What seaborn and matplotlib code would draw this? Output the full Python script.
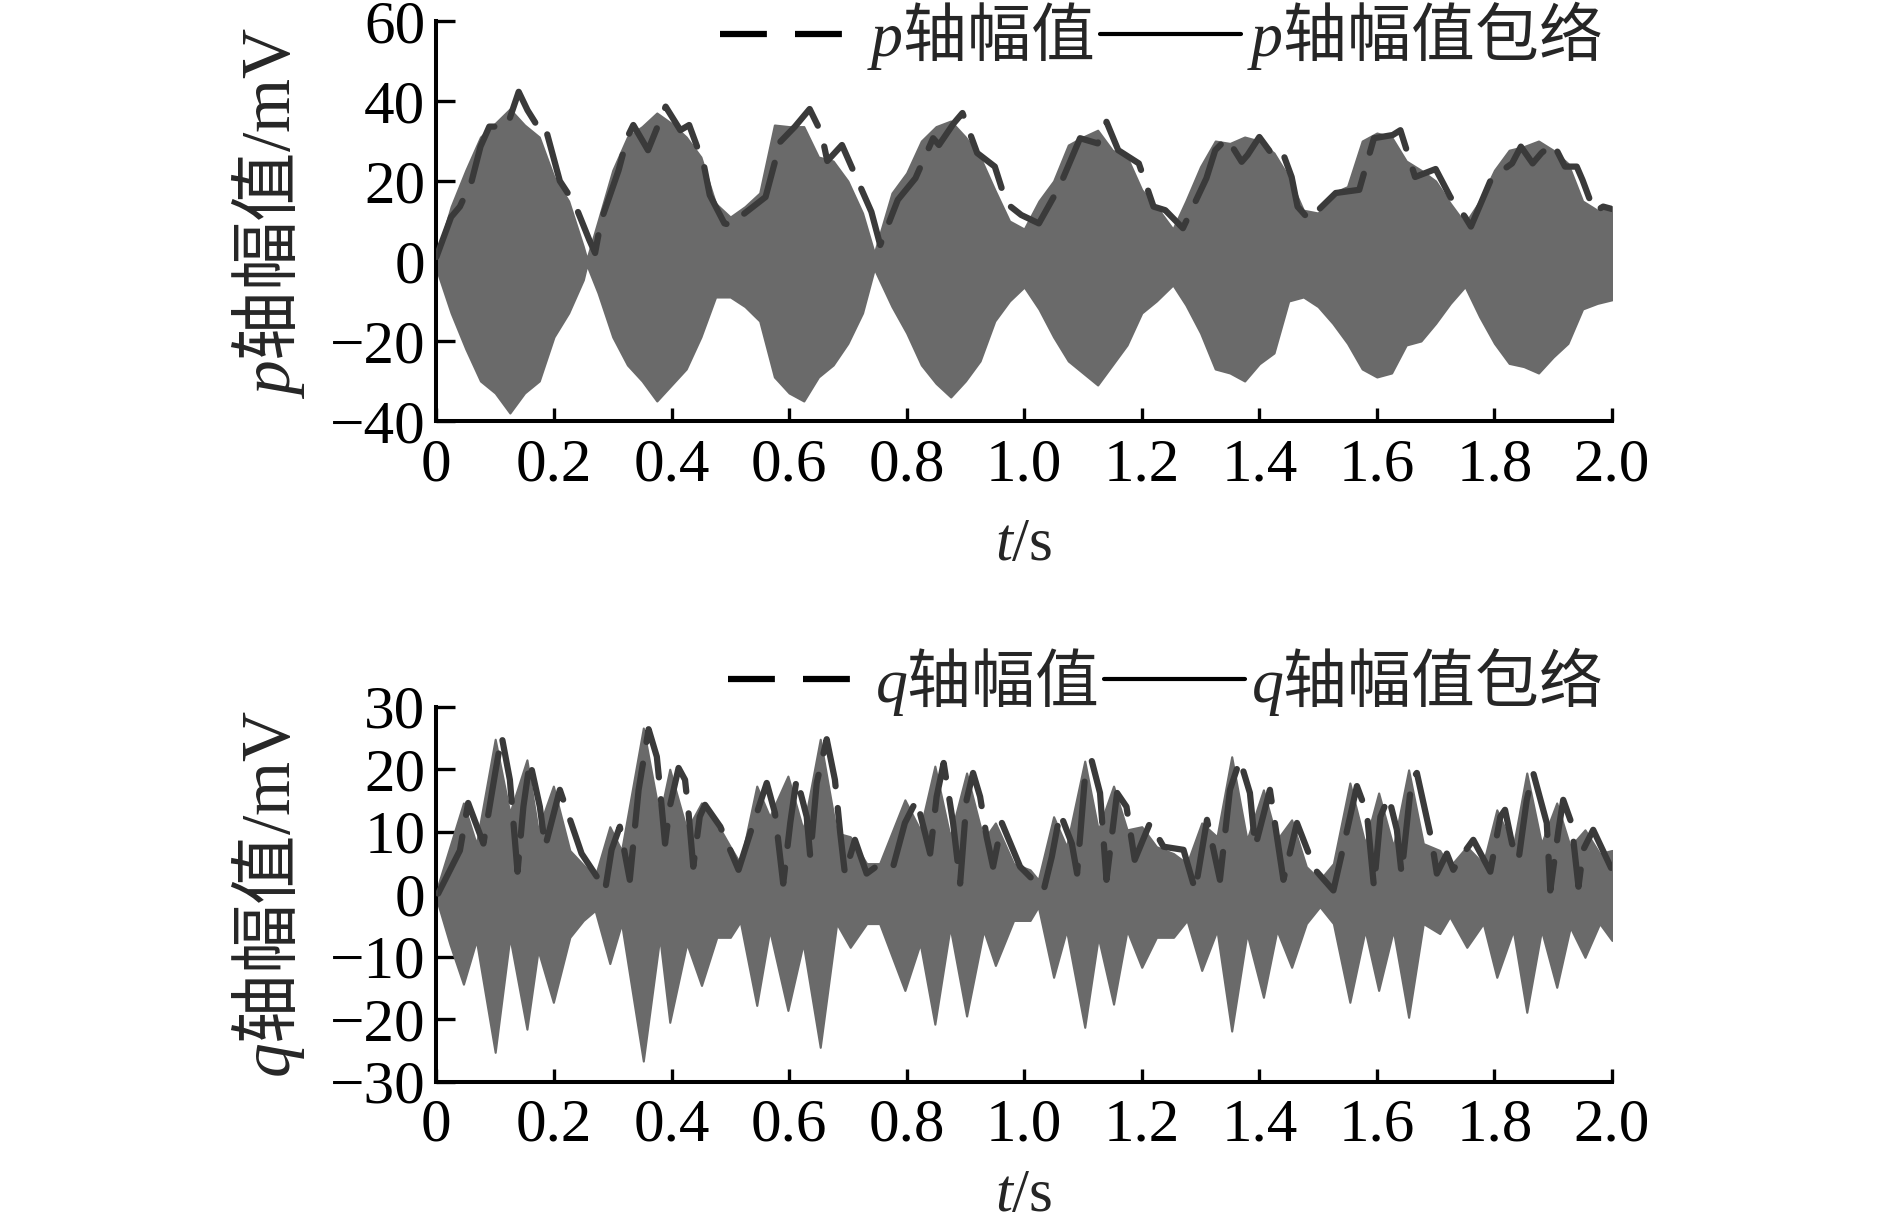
import numpy as np
import matplotlib
matplotlib.use("Agg")
import matplotlib.pyplot as plt
from matplotlib.lines import Line2D
from matplotlib.font_manager import FontProperties
import seaborn as sns

# ================================
# style
# ================================
sns.set_theme(style="ticks")
plt.rcParams['font.family'] = ['Liberation Serif', 'Noto Sans CJK SC']
plt.rcParams['mathtext.fontset'] = 'custom'
plt.rcParams['mathtext.it'] = 'Liberation Serif:italic'
plt.rcParams['mathtext.rm'] = 'Liberation Serif'
plt.rcParams['axes.unicode_minus'] = True

FS = 44
FS_LEG = 46
FS_YLAB = 50
CJK = 'Noto Sans CJK SC'
FILL_COLOR = '#6a6a6a'
ENV_COLOR = '#3a3a3a'

# ================================
# data
# ================================
# p axis: outline of the dense signal (upper / lower edge)
p_sig_t = [0.000, 0.025, 0.050, 0.075, 0.100, 0.125, 0.150, 0.175, 0.200, 0.225,
           0.250, 0.256, 0.275, 0.300, 0.325, 0.350, 0.375, 0.400, 0.425, 0.450,
           0.475, 0.500, 0.525, 0.550, 0.575, 0.600, 0.625, 0.650, 0.675, 0.700,
           0.725, 0.745, 0.775, 0.800, 0.825, 0.850, 0.875, 0.900, 0.925, 0.950,
           0.975, 1.000, 1.025, 1.050, 1.075, 1.100, 1.125, 1.150, 1.175, 1.200,
           1.225, 1.253, 1.275, 1.300, 1.325, 1.350, 1.375, 1.400, 1.425, 1.450,
           1.475, 1.500, 1.525, 1.550, 1.575, 1.600, 1.625, 1.650, 1.675, 1.700,
           1.725, 1.750, 1.775, 1.800, 1.825, 1.850, 1.875, 1.900, 1.925, 1.950,
           1.975, 2.000]
p_sig_hi = [1, 13.6, 22.7, 31, 34.4, 38, 34, 31, 21, 15,
            3.6, 0.5, 10, 22.7, 31, 33.6, 37, 34.4, 31, 26,
            14.4, 11, 13.6, 17, 34, 33.6, 33.6, 26, 25, 20,
            12, 2, 17, 22, 30, 33.6, 35, 31, 26, 17.8,
            10, 8, 15, 20, 29, 31, 32.7, 27.7, 26, 17.8,
            13.6, 8, 15, 23.6, 30, 29.4, 31, 30, 27, 21,
            12.7, 12, 17, 18.6, 30, 32, 31, 25, 22.7, 20,
            14.4, 9.4, 15, 22.7, 27.7, 28.6, 30, 27.7, 24.4, 15,
            12.7, 13.6]
p_sig_lo = [-2, -13, -22, -30, -33, -38, -33, -30, -19, -13,
            -4.7, -1, -8, -19, -26, -30, -35, -31, -27, -19,
            -9, -9, -11.4, -15, -29, -33, -35, -29, -26, -20.6,
            -13, -2, -11.4, -18, -26, -30.6, -34, -30, -25, -15,
            -10, -6.5, -12, -19, -25, -28, -31, -26, -21, -13,
            -10, -6, -11, -18, -27, -28, -30, -25.7, -23, -10,
            -9, -11.4, -15.6, -20.6, -27, -29, -28, -21, -20, -15.6,
            -10.6, -6.4, -14, -20.6, -25.6, -26.4, -28, -24, -20.6, -12,
            -10.6, -9.7]

# p axis: dashed envelope
p_env_t = [0.000, 0.025, 0.040, 0.060, 0.075, 0.090, 0.120, 0.140, 0.155, 0.175,
           0.185, 0.210, 0.235, 0.260, 0.270, 0.280, 0.310, 0.325, 0.335, 0.360,
           0.390, 0.415, 0.430, 0.455, 0.465, 0.490, 0.500, 0.525, 0.560, 0.585,
           0.610, 0.635, 0.655, 0.665, 0.690, 0.740, 0.755, 0.785, 0.815, 0.845,
           0.855, 0.880, 0.895, 0.920, 0.950, 0.970, 0.995, 1.025, 1.060, 1.095,
           1.125, 1.140, 1.160, 1.195, 1.220, 1.240, 1.270, 1.310, 1.325, 1.345,
           1.370, 1.380, 1.400, 1.425, 1.440, 1.455, 1.465, 1.485, 1.500, 1.530,
           1.570, 1.595, 1.627, 1.640, 1.665, 1.700, 1.725, 1.750, 1.760, 1.795,
           1.830, 1.845, 1.865, 1.880, 1.900, 1.920, 1.940, 1.950, 1.970, 1.985,
           2.000]
p_env_v = [1, 11, 13.6, 20, 28.6, 33.6, 33.6, 42.3, 37.7, 33,
           33.6, 20, 14.4, 5.3, 2, 10, 22.7, 31, 34, 27.7,
           38.6, 32.7, 34, 24, 16.5, 9.4, 9, 12, 16, 29.8,
           33.6, 38, 32, 25, 29, 12.3, 4, 15.3, 20.7, 30.7,
           29, 34.4, 37, 27, 23.6, 14.4, 11.5, 9.4, 18.6, 30.7,
           29.4, 34.8, 27.7, 24.4, 13.6, 12.7, 8.2, 20.7, 27.7, 30.7,
           24.8, 26.5, 31, 26, 27, 21, 13.6, 10.3, 12.7, 17,
           17.8, 30.7, 31.5, 32.7, 21, 23, 16, 11, 8.6, 20.7,
           24.4, 28.6, 24.4, 27, 29.4, 23.6, 23.6, 20.2, 12.3, 13.6,
           13]

# q axis: outline of the dense signal
q_sig_t = [0.000, 0.023, 0.046, 0.068, 0.100, 0.125, 0.154, 0.173, 0.199, 0.227,
           0.250, 0.270, 0.295, 0.315, 0.352, 0.380, 0.397, 0.426, 0.451, 0.477,
           0.500, 0.517, 0.545, 0.567, 0.598, 0.624, 0.653, 0.681, 0.704, 0.732,
           0.754, 0.797, 0.823, 0.848, 0.874, 0.902, 0.931, 0.951, 0.982, 1.010,
           1.024, 1.050, 1.072, 1.103, 1.126, 1.152, 1.175, 1.200, 1.225, 1.254,
           1.277, 1.302, 1.328, 1.353, 1.379, 1.407, 1.430, 1.455, 1.480, 1.503,
           1.526, 1.554, 1.580, 1.603, 1.628, 1.654, 1.679, 1.707, 1.724, 1.753,
           1.781, 1.804, 1.832, 1.855, 1.880, 1.906, 1.929, 1.954, 1.979, 2.000]
q_sig_hi = [0.6, 7.6, 14.6, 8, 24.8, 13, 21.5, 10.3, 17.3, 7,
            4.7, 2.8, 10.8, 7, 26.6, 12.4, 20, 10.3, 14.6, 11.4,
            7.6, 4.9, 17.3, 12.4, 18.9, 10.3, 24.8, 9.8, 9.2, 4.9,
            4.9, 15.1, 10.3, 20.5, 9.2, 19.4, 8.7, 11.4, 4.9, 3.9,
            2.3, 12.4, 7.6, 21.3, 10.3, 17.3, 10.3, 10.8, 7.6, 6.5,
            4.9, 11.4, 9.2, 22, 8.7, 16.7, 8.7, 11.9, 4.4, 2.3,
            4.9, 17.8, 8.1, 16.2, 7.6, 19.9, 8.1, 7, 4.4, 7.6,
            4.9, 13.5, 7.6, 19.4, 8.1, 14.6, 7.6, 10.3, 6.5, 7]
q_sig_lo = [-0.7, -8, -14.4, -7.4, -25.3, -6.9, -21.6, -9, -17.3, -6.9,
            -4.2, -2.6, -11.1, -4.7, -26.7, -6.9, -20.5, -7.9, -14.6, -6.9,
            -6.9, -4.4, -17.8, -5.8, -18.6, -7.9, -24.5, -4.7, -8.5, -4.7,
            -4.7, -15.4, -7.9, -20.8, -5.3, -19.5, -5.8, -11.4, -4.2, -4.2,
            -2, -13.3, -5.8, -21.3, -6.9, -17.6, -5.8, -11.7, -6.9, -6.9,
            -4.2, -12.2, -5.8, -21.9, -6.3, -16.5, -5.8, -11.7, -4.7, -2,
            -4.7, -17.3, -5.8, -15.4, -5.8, -19.7, -4.7, -6.3, -3.6, -8.5,
            -4.7, -13.3, -5.8, -18.9, -5.8, -14.9, -5.3, -10.1, -4.7, -7.4]

# q axis: dashed envelope
q_env_t = [0.003, 0.040, 0.054, 0.080, 0.100, 0.111, 0.125, 0.138, 0.148, 0.159,
           0.176, 0.185, 0.210, 0.247, 0.273, 0.287, 0.298, 0.312, 0.329, 0.344,
           0.361, 0.375, 0.380, 0.389, 0.397, 0.412, 0.423, 0.429, 0.437, 0.448,
           0.457, 0.483, 0.514, 0.534, 0.562, 0.576, 0.590, 0.602, 0.613, 0.630,
           0.636, 0.647, 0.664, 0.678, 0.687, 0.695, 0.712, 0.732, 0.755, 0.777,
           0.797, 0.817, 0.840, 0.851, 0.863, 0.879, 0.891, 0.902, 0.913, 0.925,
           0.936, 0.947, 0.962, 0.993, 1.033, 1.047, 1.061, 1.081, 1.090, 1.103,
           1.115, 1.129, 1.140, 1.158, 1.174, 1.188, 1.214, 1.237, 1.271, 1.291,
           1.311, 1.333, 1.350, 1.367, 1.384, 1.393, 1.418, 1.441, 1.464, 1.495,
           1.526, 1.543, 1.566, 1.583, 1.595, 1.606, 1.620, 1.634, 1.642, 1.659,
           1.668, 1.693, 1.702, 1.719, 1.730, 1.747, 1.764, 1.793, 1.810, 1.818,
           1.830, 1.841, 1.855, 1.866, 1.889, 1.895, 1.909, 1.917, 1.931, 1.943,
           1.951, 1.968, 2.000]
q_env_v = [0.1, 7, 14.6, 8.1, 19.4, 25.3, 18.3, 3.6, 14, 21.3,
           14, 7.6, 16.7, 6.5, 2.8, 0.6, 7.1, 10.8, 2.3, 16.7,
           26.4, 22, 17.3, 8.1, 14, 20.2, 18.3, 13, 4.4, 12.4,
           14.3, 10.8, 3.9, 9.8, 17.8, 13, 1.7, 11.4, 18.6, 12.4,
           6, 17.8, 24.8, 18.3, 9.8, 3.3, 8.7, 3.3, 4.9, 4.4,
           11.4, 15.1, 6.5, 15.6, 21, 11.4, 1.7, 15.1, 19.4, 15.6,
           9.2, 4.4, 11.4, 4.4, 0.6, 6, 13, 8.1, 3.3, 18.3,
           21.3, 16.2, 2.3, 16.2, 14, 5.5, 11.4, 7.6, 7.1, 0.6,
           11.9, 2.3, 16.7, 21.5, 16.2, 7.6, 16.7, 2.3, 11.4, 3.9,
           0.6, 7.6, 17.3, 13, 1.2, 12.4, 15.6, 10.3, 3.3, 18.3,
           19.4, 8.7, 3.3, 6.5, 3.9, 6.5, 8.7, 3.6, 12.4, 13.5,
           8.1, 5.5, 15.1, 19.4, 11.4, 0.6, 10.3, 15.1, 11.4, 1.2,
           7.1, 10.3, 3.9]

x_ticks = [0, 0.2, 0.4, 0.6, 0.8, 1.0, 1.2, 1.4, 1.6, 1.8, 2.0]
x_ticklabels = ['0', '0.2', '0.4', '0.6', '0.8', '1.0', '1.2', '1.4', '1.6', '1.8', '2.0']
p_yticks = [-40, -20, 0, 20, 40, 60]
q_yticks = [-30, -20, -10, 0, 10, 20, 30]

# ================================
# figure
# ================================
W, H = 1889, 1229
fig = plt.figure(figsize=(W / 100, H / 100), dpi=100)
ax_p = fig.add_axes([436.4 / W, 1 - 421 / H, 1175.6 / W, 400 / H])
ax_q = fig.add_axes([436.4 / W, 1 - 1081.7 / H, 1175.6 / W, 375 / H])

panels = [
    (ax_p, p_sig_t, p_sig_hi, p_sig_lo, p_env_t, p_env_v, (-40, 60), p_yticks, 'p'),
    (ax_q, q_sig_t, q_sig_hi, q_sig_lo, q_env_t, q_env_v, (-30, 30), q_yticks, 'q'),
]

for ax, st, shi, slo, et, ev, ylim, yticks, name in panels:
    ax.fill_between(st, slo, shi, color=FILL_COLOR, linewidth=1.5,
                    edgecolor=FILL_COLOR, zorder=2)
    sns.lineplot(x=et, y=ev, ax=ax, color=ENV_COLOR, linewidth=4.5,
                 linestyle=(0, (10, 3.5)), dash_capstyle='round',
                 estimator=None, sort=False, zorder=3)

    ax.set_xlim(0, 2.0)
    ax.set_ylim(*ylim)
    ax.set_xticks(x_ticks)
    ax.set_xticklabels(x_ticklabels)
    ax.set_yticks(yticks)
    ax.set_xlabel('')
    ax.set_ylabel('')
    sns.despine(ax=ax)
    for s in ['left', 'bottom']:
        ax.spines[s].set_linewidth(2.9)
        ax.spines[s].set_color('black')
    ax.tick_params(axis='y', direction='in', length=13.5, width=2.4,
                   labelsize=FS, pad=8, colors='black')
    ax.tick_params(axis='x', direction='in', length=9.5, width=2.4,
                   labelsize=FS, pad=12, colors='black')
    for lab in ax.get_xticklabels() + ax.get_yticklabels():
        lab.set_fontfamily('Liberation Serif')

    # legend (dashed = amplitude, solid = envelope, as in the original)
    handles = [Line2D([], [], color='black', lw=4.5, linestyle=(0, (7.5, 4.5))),
               Line2D([], [], color='black', lw=3.0)]
    labels = [r'$\mathit{%s}$轴幅值' % name, r'$\mathit{%s}$轴幅值包络' % name]
    ly = 36 if name == 'p' else 681
    ax.legend(handles, labels, loc='center right',
              bbox_to_anchor=(1602 / W, 1 - ly / H), bbox_transform=fig.transFigure,
              ncol=2, frameon=False, prop=FontProperties(family=CJK, size=FS_LEG),
              handlelength=2.2, handletextpad=0.1, columnspacing=0.1,
              borderpad=0, borderaxespad=0)

# axis titles
fig.text(268 / W, 1 - 213 / H, r'$\mathit{p}$轴幅值$\mathrm{/mV}$', rotation=90,
         ha='center', va='center', fontsize=FS_YLAB, family=CJK)
fig.text(268 / W, 1 - 894 / H, r'$\mathit{q}$轴幅值$\mathrm{/mV}$', rotation=90,
         ha='center', va='center', fontsize=FS_YLAB, family=CJK)
fig.text(1024 / W, 1 - 545 / H, r'$\mathit{t}$/s', ha='center', va='center',
         fontsize=FS, family='Liberation Serif')
fig.text(1024 / W, 1 - 1196 / H, r'$\mathit{t}$/s', ha='center', va='center',
         fontsize=FS, family='Liberation Serif')

fig.savefig('out.png', dpi=100, facecolor='white')
